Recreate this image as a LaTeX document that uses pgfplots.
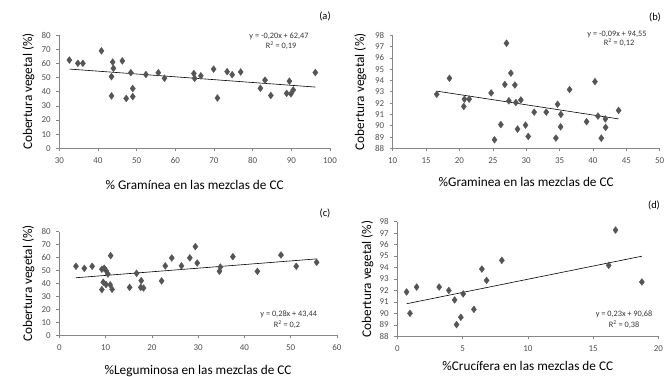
\documentclass[border=0pt]{standalone}
\usepackage{pgfplots}
\pgfplotsset{compat=1.18}
\usepackage{pgfplotstable}
\usepackage{fontspec}
\setmainfont{Carlito}
\definecolor{mk}{RGB}{85,85,85}
\definecolor{ax}{RGB}{134,134,134}
\definecolor{tk}{RGB}{80,80,80}

\pgfplotstableread{
x y
32.6 62.3
34.8 60.0
36.1 60.0
40.9 68.8
43.8 60.9
44.0 56.5
43.5 50.6
43.5 37.0
46.3 61.7
47.3 35.2
48.5 53.4
49.0 36.5
49.0 42.2
52.4 52.1
55.6 53.4
57.2 49.5
64.8 52.8
65.0 49.4
66.6 51.2
69.9 55.9
70.9 35.5
73.4 54.1
74.7 52.0
76.9 53.9
82.0 42.4
83.2 48.1
84.7 37.3
88.8 38.8
89.5 47.4
89.9 38.5
90.5 41.2
96.2 53.5
}\dataA

\pgfplotstableread{
x y
16.6 92.78
18.5 94.2
20.65 91.7
20.75 92.35
21.45 92.35
24.75 92.9
25.25 88.75
26.2 90.1
26.8 93.65
27.05 97.3
27.4 92.2
27.7 94.65
28.3 93.6
28.45 92.05
28.7 89.7
29.2 92.28
29.9 90.05
30.3 89.05
31.2 91.2
33.0 91.2
34.45 88.9
34.7 91.9
35.15 89.9
35.2 91.0
36.5 93.2
39.05 90.35
40.3 93.9
40.75 90.85
41.25 88.9
41.85 90.6
41.9 89.85
43.85 91.35
}\dataB

\pgfplotstableread{
x y
3.6 53.3
5.4 51.7
7.1 53.3
9.2 51.0
9.7 51.8
10.1 50.0
10.5 47.3
9.2 35.3
9.5 41.0
10.1 39.2
11.1 61.5
11.0 39.0
11.4 35.5
15.2 37.0
16.7 47.9
17.7 42.2
17.6 37.0
18.2 36.5
22.1 42.0
22.9 53.6
24.3 59.7
26.4 53.6
28.2 59.8
29.4 68.5
29.8 55.8
34.6 49.5
34.8 52.7
37.5 60.7
42.8 49.4
47.9 62.0
51.2 53.3
55.6 56.4
}\dataC

\pgfplotstableread{
x y
0.71 91.87
0.97 90.0
1.48 92.3
3.21 92.3
3.95 92.0
4.39 91.17
4.54 89.02
4.87 89.66
5.05 91.7
5.87 90.35
6.48 93.87
6.84 92.88
8.01 94.63
16.2 94.19
16.72 97.27
18.74 92.74
}\dataD

\pgfplotsset{
  panel/.style={
    scale only axis,
    axis x line*=bottom, axis y line*=left,
    axis line style={ax, line width=0.6bp},
    tick style={ax, line width=0.6bp},
    tick align=outside,
    major tick length=3bp,
    tick label style={font=\fontsize{9}{10}\selectfont, text=tk},
    /pgf/number format/assume math mode=true,
    xticklabel style={yshift=-2.5bp},
    yticklabel style={xshift=-2bp},
    label style={font=\fontsize{13.3}{15}\selectfont},
    clip=false,
    anchor=south west,
  },
  pts/.style={only marks, mark=diamond*, mark size=3.4bp, mk},
  trend/.style={black, line width=0.6bp, no marks},
}

\begin{document}
\begin{tikzpicture}
\useasboundingbox (0,0) rectangle (664bp,377bp);

% (a)
\begin{axis}[panel, at={(59.3bp,228.7bp)}, width=270.7bp, height=113.3bp,
  xmin=30, xmax=100, ymin=0, ymax=80,
  xtick={30,40,...,100}, ytick={0,10,...,80},
  xlabel={\% Gramínea en las mezclas de CC},
  ylabel={Cobertura vegetal (\%)},
  xlabel style={at={(axis description cs:0.5,0)}, anchor=center, yshift=-36.7bp},
  ylabel style={at={(axis description cs:0,0.5)}, anchor=center, yshift=31bp},
]
\addplot[pts] table[x=x,y=y] {\dataA};
\addplot[trend] coordinates {(32.6,55.95) (96.2,43.23)};
\end{axis}

% (b)
\begin{axis}[panel, at={(392.7bp,228.7bp)}, width=267bp, height=113bp,
  xmin=10, xmax=50, ymin=88, ymax=98,
  xtick={10,15,...,50}, ytick={88,89,...,98},
  xlabel={\%Graminea en las mezclas de CC},
  ylabel={Cobertura vegetal (\%)},
  xlabel style={at={(axis description cs:0.5,0)}, anchor=center, yshift=-33.4bp},
  ylabel style={at={(axis description cs:0,0.5)}, anchor=center, yshift=32.4bp},
]
\addplot[pts] table[x=x,y=y] {\dataB};
\addplot[trend] coordinates {(16.6,93.06) (43.85,90.60)};
\end{axis}

% (c)
\begin{axis}[panel, at={(59.3bp,41.7bp)}, width=277.7bp, height=103.6bp,
  xmin=0, xmax=60, ymin=0, ymax=80,
  xtick={0,10,...,60}, ytick={0,10,...,80},
  xlabel={\%Leguminosa en las mezclas de CC},
  ylabel={Cobertura vegetal (\%)},
  xlabel style={at={(axis description cs:0.5,0)}, anchor=center, yshift=-35.4bp},
  ylabel style={at={(axis description cs:0,0.5)}, anchor=center, yshift=31bp},
]
\addplot[pts] table[x=x,y=y] {\dataC};
\addplot[trend] coordinates {(3.6,44.45) (55.6,59.01)};
\end{axis}

% (d)
\begin{axis}[panel, at={(397.3bp,40.7bp)}, width=261bp, height=114.6bp,
  xmin=0, xmax=20, ymin=88, ymax=98,
  xtick={0,5,...,20}, ytick={88,89,...,98},
  xlabel={\%Crucífera en las mezclas de CC},
  ylabel={Cobertura vegetal (\%)},
  xlabel style={at={(axis description cs:0.5,0)}, anchor=center, yshift=-30bp},
  ylabel style={at={(axis description cs:0,0.5)}, anchor=center, yshift=30bp},
]
\addplot[pts] table[x=x,y=y] {\dataD};
\addplot[trend] coordinates {(0.71,90.84) (18.74,94.99)};
\end{axis}

% annotations (page coordinates: y from bottom)
\begin{scope}[every node/.style={inner sep=0pt, font=\fontsize{8.3}{9}\selectfont, text=black!80}]
\node at (279bp,341bp) {y = -0,20x + 62,47};
\node at (281bp,331.3bp) {R\textsuperscript{2} = 0,19};
\node at (617bp,343bp) {y = -0,09x + 94,55};
\node at (619bp,334.3bp) {R\textsuperscript{2} = 0,12};
\node at (288.7bp,62.7bp) {y = 0,28x + 43,44};
\node at (287bp,52.7bp) {R\textsuperscript{2} = 0,2};
\node at (624bp,63bp) {y = 0,23x + 90,68};
\node at (624bp,52.7bp) {R\textsuperscript{2} = 0,38};
\end{scope}
\begin{scope}[every node/.style={inner sep=0pt, font=\fontsize{10.5}{12}\selectfont}]
\node at (325bp,361bp) {(a)};
\node at (655bp,360bp) {(b)};
\node at (325bp,164bp) {(c)};
\node at (654bp,172bp) {(d)};
\end{scope}
\end{tikzpicture}
\end{document}
